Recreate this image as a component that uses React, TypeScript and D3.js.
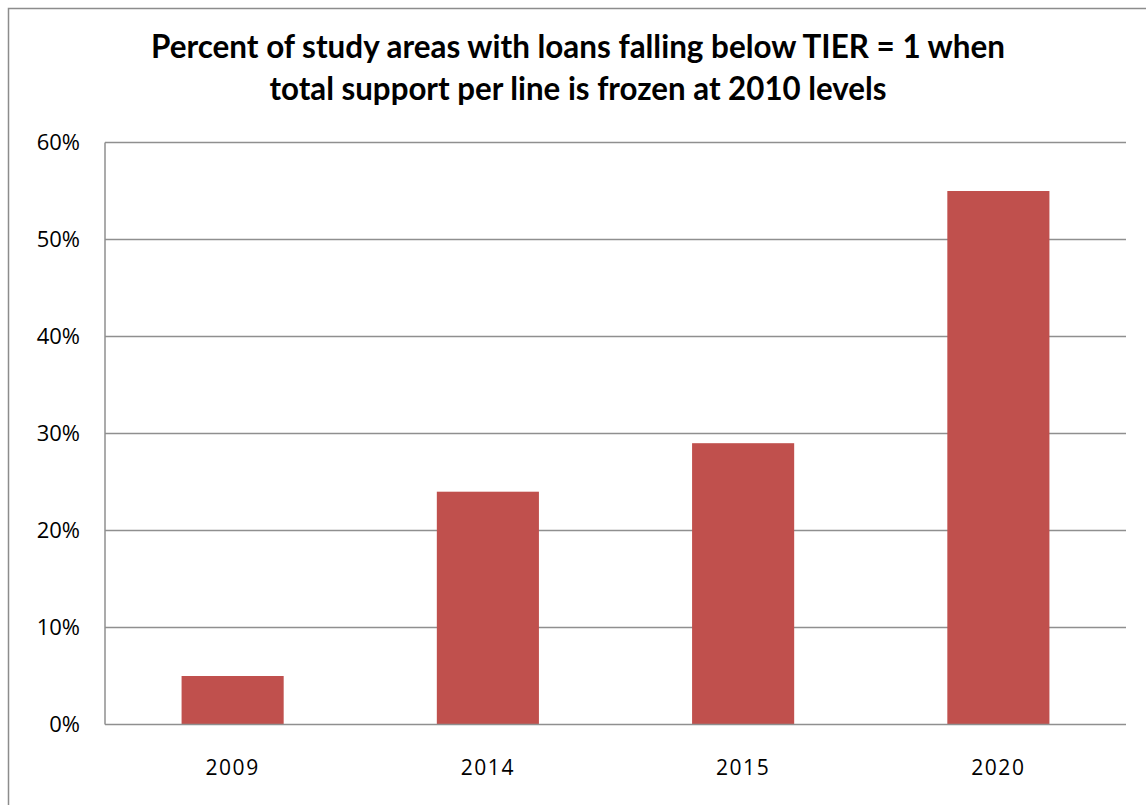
import React from "react";
import * as d3 from "d3";

const categories = ["2009", "2014", "2015", "2020"];
const values = [0.05, 0.24, 0.29, 0.55];
const yTicks = [0, 0.1, 0.2, 0.3, 0.4, 0.5, 0.6];
const titleLines = [
  "Percent of study areas with  loans falling below TIER = 1 when",
  "total support per line is frozen at 2010 levels",
];

export default function App() {
  const W = 1146, H = 805;
  const left = 105, right = 1126, top = 142.5, bottom = 724.5;
  const x = d3.scaleBand<string>().domain(categories).range([left, right]).paddingInner(0.6).paddingOuter(0.3);
  const y = d3.scaleLinear().domain([0, 0.6]).range([bottom, top]);
  const fmt = d3.format(".0%");
  return (
    <svg width={W} height={H} style={{ position: "absolute", left: 0, top: 0 }}>
      <rect x={8.5} y={8.5} width={W + 20} height={H + 20} fill="white" stroke="#8c8c8c" strokeWidth={1.5} />
      <g fontFamily="Lato, 'Open Sans', sans-serif" fontWeight="bold" fontSize={31.5} textAnchor="middle" fill="#000">
        <text x={578} y={58} textLength={854} lengthAdjust="spacingAndGlyphs">{titleLines[0]}</text>
        <text x={578} y={100} textLength={617} lengthAdjust="spacingAndGlyphs">{titleLines[1]}</text>
      </g>
      {yTicks.map((t) => (
        <g key={t}>
          {t > 0 && (
            <line x1={left} x2={right} y1={y(t)} y2={y(t)} stroke="#8f8f8f" strokeWidth={1.5} />
          )}
          <text x={80} y={y(t)} dy="0.36em" textAnchor="end" fontFamily="'Open Sans', sans-serif" fontSize={22} fill="#000">
            {fmt(t)}
          </text>
        </g>
      ))}
      {categories.map((c, i) => (
        <rect key={c} x={x(c)} y={y(values[i])} width={x.bandwidth()} height={bottom - y(values[i])} fill="#c0504d" />
      ))}
      <line x1={left} x2={left} y1={top} y2={bottom} stroke="#8f8f8f" strokeWidth={1.5} />
      <line x1={left} x2={right} y1={bottom} y2={bottom} stroke="#8f8f8f" strokeWidth={1.5} />
      {categories.map((c) => (
        <text key={c} x={(x(c) as number) + x.bandwidth() / 2} y={775} textAnchor="middle" fontFamily="'Open Sans', sans-serif" fontSize={21} letterSpacing={1.5} fill="#000">
          {c}
        </text>
      ))}
    </svg>
  );
}
